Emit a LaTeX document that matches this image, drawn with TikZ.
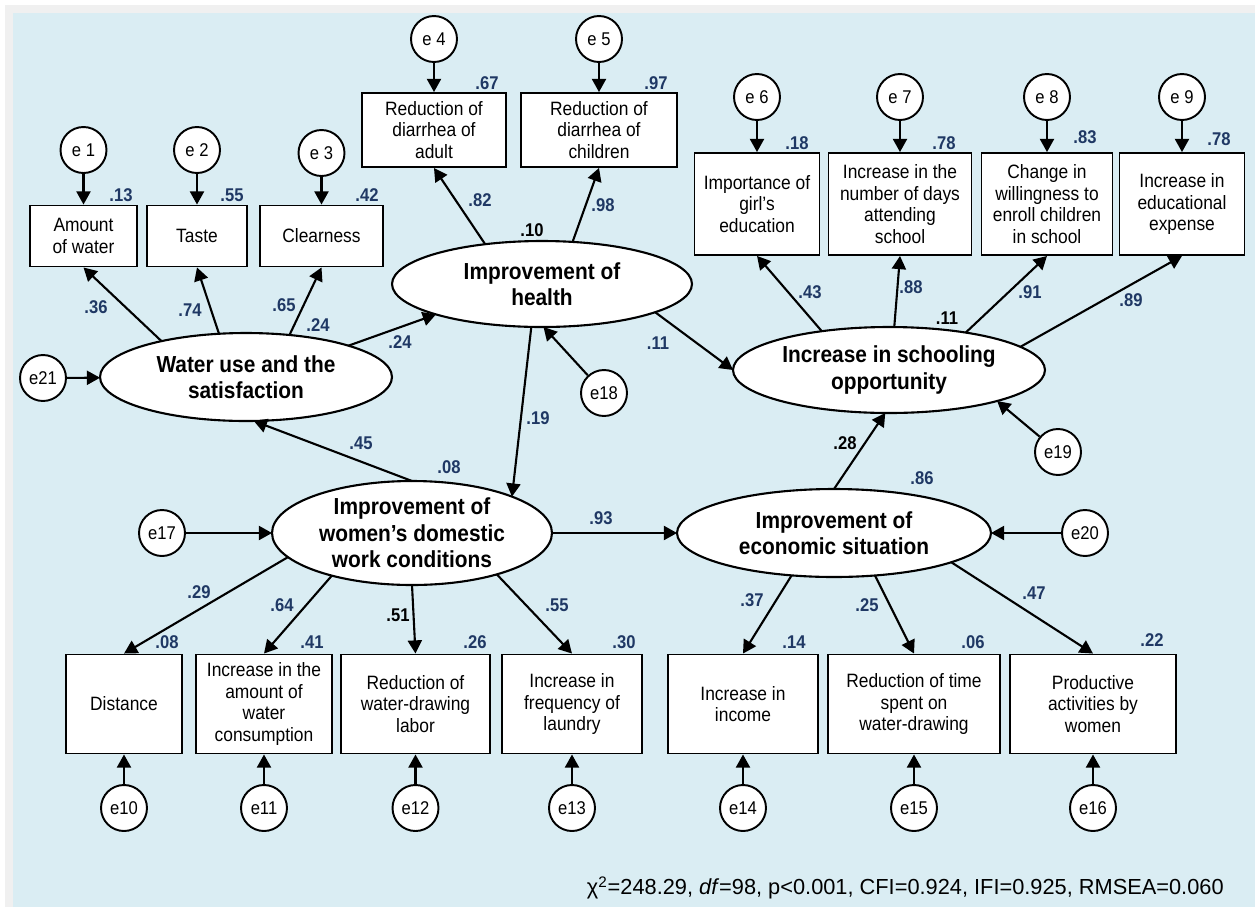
\documentclass[tikz,border=0pt]{standalone}
\usepackage{fontspec}
\setmainfont{Liberation Sans}[FakeStretch=0.9]
\newfontfamily\fitfont{Liberation Sans}
\usetikzlibrary{arrows.meta,shapes.geometric}
\definecolor{bgblue}{HTML}{DAEDF3}
\definecolor{bggrey}{HTML}{F0F0F0}
\definecolor{coefblue}{HTML}{1F3864}
\tikzset{
  obs/.style={draw, fill=white, line width=1.1pt, align=center, inner sep=0pt,
    font=\fontsize{11}{12.3}\selectfont},
  err/.style={draw, fill=white, circle, line width=1.1pt, minimum size=0.92cm,
    inner sep=0pt, font=\fontsize{10.5}{12}\selectfont},
  lat/.style={draw, fill=white, ellipse, line width=1.2pt, align=center,
    inner sep=-3pt, outer sep=0pt, font=\fontsize{13.2}{15.1}\selectfont\bfseries},
  coef/.style={text=coefblue, inner sep=0pt, font=\fontsize{10.5}{12}\selectfont\bfseries},
  coefk/.style={coef, text=black},
  arr/.style={-{Triangle[length=7.5pt,width=8pt]}, line width=1.2pt}
}
\begin{document}
\begin{tikzpicture}[x=0.02cm,y=-0.02cm]
            \useasboundingbox (0,0) rectangle (1255,907);
            \fill[white] (0,0) rectangle (1255,907);
            \fill[bggrey] (5,5) rectangle (1255,907);
            \fill[bgblue] (13,13) rectangle (1255,907);

            \node[obs, minimum width=2.14cm, minimum height=1.22cm] (v_1) at (83.5,236) {Amount\\of water};
            \node[obs, minimum width=2.0cm, minimum height=1.22cm] (v_2) at (197,236) {Taste};
            \node[obs, minimum width=2.46cm, minimum height=1.22cm] (v_3) at (321.5,236) {Clearness};
            \node[obs, minimum width=2.88cm, minimum height=1.48cm] (v_4) at (434,130) {Reduction of\\diarrhea of\\adult};
            \node[obs, minimum width=3.12cm, minimum height=1.48cm] (v_5) at (599,130) {Reduction of\\diarrhea of\\children};
            \node[obs, minimum width=2.5cm, minimum height=2.04cm] (v_6) at (757,204) {Importance of\\girl’s\\education};
            \node[obs, minimum width=2.86cm, minimum height=2.04cm] (v_7) at (900,204) {Increase in the\\number of days\\attending\\school};
            \node[obs, minimum width=2.62cm, minimum height=2.04cm] (v_8) at (1047,204) {Change in\\willingness to\\enroll children\\in school};
            \node[obs, minimum width=2.5cm, minimum height=2.04cm] (v_9) at (1182,204) {Increase in\\educational\\expense};
            \node[obs, minimum width=2.32cm, minimum height=1.98cm] (v_10) at (124,704) {Distance};
            \node[obs, minimum width=2.72cm, minimum height=1.98cm] (v_11) at (264,704) {Increase in the\\amount of\\water\\consumption};
            \node[obs, minimum width=2.98cm, minimum height=1.98cm] (v_12) at (415.5,704) {Reduction of\\water-drawing\\labor};
            \node[obs, minimum width=2.8cm, minimum height=1.98cm] (v_13) at (572,704) {Increase in\\frequency of\\laundry};
            \node[obs, minimum width=3.0cm, minimum height=1.98cm] (v_14) at (743,704) {Increase in\\income};
            \node[obs, minimum width=3.44cm, minimum height=1.98cm] (v_15) at (914,704) {Reduction of time\\spent on\\water-drawing};
            \node[obs, minimum width=3.32cm, minimum height=1.98cm] (v_16) at (1093,704) {Productive\\activities by\\women};

            \node[lat, minimum width=5.84cm, minimum height=1.76cm] (l_w) at (246,377) {Water use and the\\satisfaction};
            \node[lat, minimum width=6.0cm, minimum height=1.72cm] (l_h) at (542,284) {Improvement of\\health};
            \node[lat, minimum width=5.6cm, minimum height=2.08cm] (l_d) at (412,533) {Improvement of\\women’s domestic\\work conditions};
            \node[lat, minimum width=6.28cm, minimum height=1.76cm] (l_e) at (834,533) {Improvement of\\economic situation};
            \node[lat, minimum width=6.24cm, minimum height=1.72cm] (l_s) at (889,370) {Increase in schooling\\opportunity};

            \node[err] (e_1) at (83.5,150) {e 1};
            \node[err] (e_2) at (197,150) {e 2};
            \node[err] (e_3) at (321.5,153) {e 3};
            \node[err] (e_4) at (434,39) {e 4};
            \node[err] (e_5) at (599,39) {e 5};
            \node[err] (e_6) at (757,97) {e 6};
            \node[err] (e_7) at (900,97) {e 7};
            \node[err] (e_8) at (1047,97) {e 8};
            \node[err] (e_9) at (1182,97) {e 9};
            \node[err] (e_10) at (124,808) {e10};
            \node[err] (e_11) at (264,808) {e11};
            \node[err] (e_12) at (415.5,808) {e12};
            \node[err] (e_13) at (572,808) {e13};
            \node[err] (e_14) at (743,808) {e14};
            \node[err] (e_15) at (914,808) {e15};
            \node[err] (e_16) at (1093,808) {e16};
            \node[err] (e_17) at (162,533) {e17};
            \node[err] (e_18) at (604,393) {e18};
            \node[err] (e_19) at (1058,452) {e19};
            \node[err] (e_20) at (1085,533) {e20};
            \node[err] (e_21) at (43,378) {e21};

            \path[arr]
                (e_1) edge (v_1)
                (e_2) edge (v_2)
                (e_3) edge (v_3)
                (e_4) edge (v_4)
                (e_5) edge (v_5)
                (e_6) edge (v_6)
                (e_7) edge (v_7)
                (e_8) edge (v_8)
                (e_9) edge (v_9)
                (e_10) edge (v_10)
                (e_11) edge (v_11)
                (e_12) edge (v_12)
                (e_13) edge (v_13)
                (e_14) edge (v_14)
                (e_15) edge (v_15)
                (e_16) edge (v_16)
                (e_17) edge (l_d)
                (e_18) edge (l_h.-88)
                (e_19) edge (l_s.-16)
                (e_20) edge (l_e)
                (e_21) edge (l_w)
                (l_w.157) edge (v_1.south)
                (l_w.122) edge (v_2.south)
                (l_w.44) edge (v_3.south)
                (l_w.17) edge (l_h.196)
                (l_h.145) edge (v_4.south)
                (l_h.54) edge (v_5.south)
                (l_h.-104) edge (l_d.20)
                (l_h.-14) edge (l_s.west)
                (l_s.150) edge (v_6.south)
                (l_s.83) edge (v_7.south)
                (l_s.26) edge (v_8.south)
                (l_s.10) edge (v_9.south)
                (l_d.north) edge (l_w.-80)
                (l_d) edge (l_e)
                (l_d.191) edge (v_10.north)
                (l_d.208) edge (v_11.north)
                (l_d.south) edge (v_12.north)
                (l_d.-26) edge (v_13.north)
                (l_e.north) edge (l_s.265)
                (l_e.225) edge (v_14.north)
                (l_e.-46) edge (v_15.north)
                (l_e.-14) edge (v_16.north);

            \node[coef] (r_1) at (121,195) {.13};
            \node[coef] (r_2) at (232,195) {.55};
            \node[coef] (r_3) at (367,195) {.42};
            \node[coef] (r_4) at (487,83) {.67};
            \node[coef] (r_5) at (656,83) {.97};
            \node[coef] (r_6) at (797,143) {.18};
            \node[coef] (r_7) at (944,143) {.78};
            \node[coef] (r_8) at (1085,137) {.83};
            \node[coef] (r_9) at (1219,139) {.78};
            \node[coef] (r_10) at (167,642) {.08};
            \node[coef] (r_11) at (312,642) {.41};
            \node[coef] (r_12) at (475,642) {.26};
            \node[coef] (r_13) at (624,642) {.30};
            \node[coef] (r_14) at (794,642) {.14};
            \node[coef] (r_15) at (973,642) {.06};
            \node[coef] (r_16) at (1152,640) {.22};
            \node[coef] (r_w) at (318,325) {.24};
            \node[coefk] (r_h) at (532,230) {.10};
            \node[coef] (r_d) at (449,467) {.08};
            \node[coef] (r_e) at (922,478) {.86};
            \node[coefk] (r_s) at (947,318) {.11};

            \node[coef] (p_1) at (96,307) {.36};
            \node[coef] (p_2) at (190,310) {.74};
            \node[coef] (p_3) at (284,305) {.65};
            \node[coef] (p_wh) at (400,342) {.24};
            \node[coef] (p_4) at (480,200) {.82};
            \node[coef] (p_5) at (603,205) {.98};
            \node[coef] (p_hd) at (538,418) {.19};
            \node[coef] (p_hs) at (658,343) {.11};
            \node[coef] (p_6) at (810,292) {.43};
            \node[coef] (p_7) at (911,287) {.88};
            \node[coef] (p_8) at (1030,292) {.91};
            \node[coef] (p_9) at (1131,300) {.89};
            \node[coef] (p_dw) at (361,443) {.45};
            \node[coef] (p_de) at (601,518) {.93};
            \node[coefk] (p_es) at (845,443) {.28};
            \node[coef] (p_10) at (199,592) {.29};
            \node[coef] (p_11) at (282,605) {.64};
            \node[coefk] (p_12) at (398,615) {.51};
            \node[coef] (p_13) at (557,605) {.55};
            \node[coef] (p_14) at (752,600) {.37};
            \node[coef] (p_15) at (867,605) {.25};
            \node[coef] (p_16) at (1034,593) {.47};

            \node[anchor=east, inner sep=0pt, font=\fitfont\fontsize{12.4}{14}\selectfont] (fit) at (1224,888)
                {χ\textsuperscript{2}=248.29, \textit{df}=98, p<0.001, CFI=0.924, IFI=0.925, RMSEA=0.060};
\end{tikzpicture}
\end{document}
